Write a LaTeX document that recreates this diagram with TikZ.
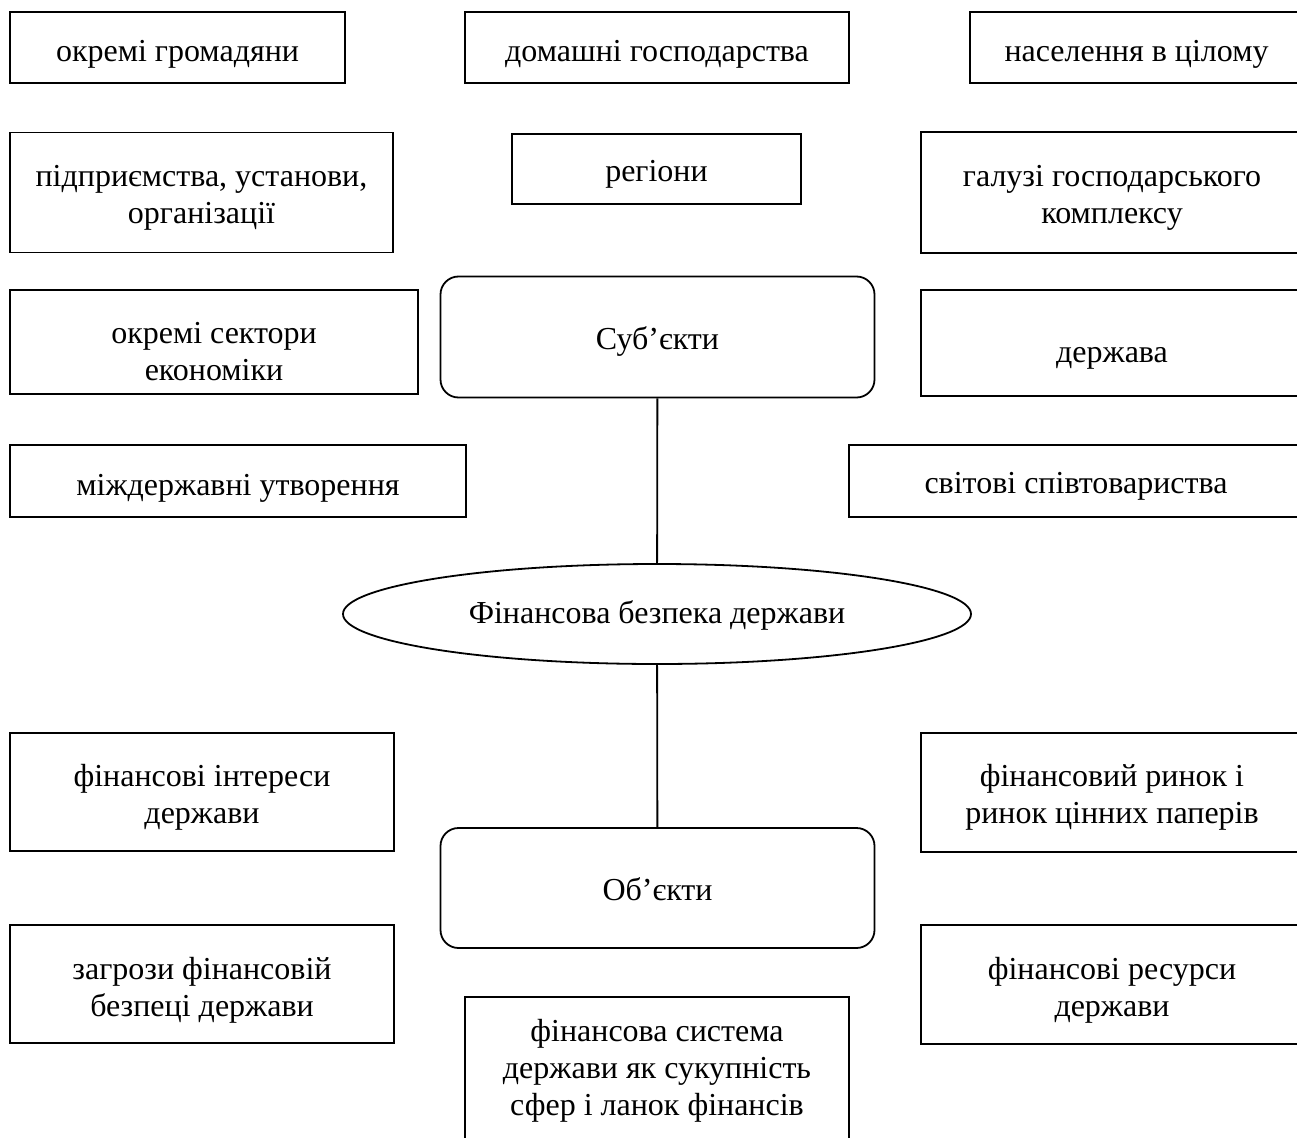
\documentclass[tikz,border=0pt]{standalone}
\usepackage{fontspec}
\setmainfont{Liberation Serif}
\usepackage{tikz}
\usetikzlibrary{shapes.geometric}

% text of a box, lowered by #1 (lines as in a tabular)
\newcommand{\boxtxt}[2]{\raisebox{-#1pt}[\height][\depth]{\begin{tabular}{@{}c@{}}#2\end{tabular}}}

\tikzset{
  box/.style={draw, line width=1.8pt, inner sep=0pt},
  rbox/.style={box, rounded corners=18pt},
  oval/.style={draw, ellipse, line width=1.8pt, inner sep=0pt}
}

\begin{document}
\begin{tikzpicture}[x=1pt,y=1pt,yscale=-1,xscale=1,font=\fontsize{32}{36.8}\selectfont]
        \useasboundingbox (0,0) rectangle (1297,1137);
        \clip (0,0) rectangle (1297,1137);
        %Shape: Rectangle [row 1]
        \node [box, minimum width=335pt, minimum height=71pt] (gromad) at (177.5,47.5) {\boxtxt{7}{окремі громадяни}};
        \node [box, minimum width=384pt, minimum height=71pt] (domgosp) at (657,47.5) {\boxtxt{7}{домашні господарства}};
        \node [box, minimum width=333pt, minimum height=71pt] (naselen) at (1136.5,47.5) {\boxtxt{7}{населення в цілому}};
        %Shape: Rectangle [row 2]
        \node [box, minimum width=383pt, minimum height=120pt] (pidpr) at (201.5,192.5) {\boxtxt{5}{підприємства, установи,\\організації}};
        \node [box, minimum width=289pt, minimum height=70pt] (regiony) at (656.5,169) {\boxtxt{5.6}{регіони}};
        \node [box, minimum width=382pt, minimum height=121pt] (haluzi) at (1112,192.5) {\boxtxt{5.5}{галузі господарського\\комплексу}};
        %Shape: Rectangle [row 3]
        \node [box, minimum width=408pt, minimum height=104pt] (sektory) at (214,342) {\boxtxt{12.5}{окремі сектори\\економіки}};
        \node [rbox, minimum width=434pt, minimum height=121pt] (subj) at (657.5,337) {\boxtxt{5.6}{Суб’єкти}};
        \node [box, minimum width=382pt, minimum height=106pt] (derzh) at (1112,343) {\boxtxt{12.6}{держава}};
        %Shape: Rectangle [row 4]
        \node [box, minimum width=456pt, minimum height=72pt] (mizhd) at (238,481) {\boxtxt{7}{міждержавні утворення}};
        \node [box, minimum width=454pt, minimum height=72pt] (svitovi) at (1076,481) {\boxtxt{5.6}{світові співтовариства}};
        %Shape: Ellipse
        \node [oval, minimum width=628pt, minimum height=100pt] (bezpeka) at (657,614) {\boxtxt{2.6}{Фінансова безпека держави}};
        %Shape: Rectangle [row 5]
        \node [box, minimum width=384pt, minimum height=118pt] (interesy) at (202,792) {\boxtxt{6}{фінансові інтереси\\держави}};
        \node [box, minimum width=382pt, minimum height=119pt] (rynok) at (1112,792.5) {\boxtxt{5}{фінансовий ринок і\\ринок цінних паперів}};
        \node [rbox, minimum width=434pt, minimum height=120pt] (obj) at (657.5,888) {\boxtxt{5.6}{Об’єкти}};
        %Shape: Rectangle [row 6]
        \node [box, minimum width=384pt, minimum height=118pt] (zahrozy) at (202,984) {\boxtxt{6.6}{загрози фінансовій\\безпеці держави}};
        \node [box, minimum width=382pt, minimum height=119pt] (resursy) at (1112,984.5) {\boxtxt{6}{фінансові ресурси\\держави}};
        \node [box, minimum width=384pt, minimum height=160pt] (systema) at (657,1077) {\boxtxt{-6}{фінансова система\\держави як сукупність\\сфер і ланок фінансів}};
        %Straight Lines
        \draw [line width=1.8pt] (subj) -- (bezpeka);
        \draw [line width=1.8pt] (bezpeka) -- (obj);
\end{tikzpicture}
\end{document}
